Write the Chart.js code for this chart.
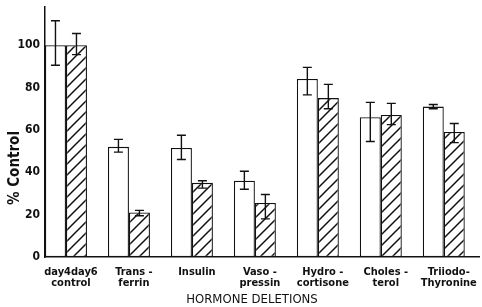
<!DOCTYPE html>
<html>
<head>
<meta charset="utf-8">
<script src="https://cdn.jsdelivr.net/npm/chart.js@4"></script>
<style>
  html, body { margin: 0; padding: 0; background: #fff; }
  canvas { display: block; }
</style>
</head>
<body>
<canvas id="chart" width="482" height="307"></canvas>
<script>
// categories (two-line labels as in the figure)
const categoryLabels = [
  ["day4day6", "control"],
  ["Trans -", "ferrin"],
  ["Insulin"],
  ["Vaso -", "pressin"],
  ["Hydro -", "cortisone"],
  ["Choles -", "terol"],
  ["Triiodo-", "Thyronine"]
];

// open bars (day 4)
const openValues   = [100, 52, 51.5, 36, 84, 66, 71];
const openErrUp    = [11.5, 3.5, 6, 4.5, 5.5, 7, 1];
const openErrDown  = [9.5, 2.5, 5.5, 4, 7.5, 11.5, 1];

// hatched bars (day 6)
const hatchValues  = [100, 21, 35, 25.5, 75, 67, 59];
const hatchErrUp   = [5.5, 1, 1, 4, 6.5, 5.5, 4];
const hatchErrDown = [4.5, 1.5, 2.5, 7.5, 5, 4.5, 5];

const yTicks = [0, 20, 40, 60, 80, 100];

// diagonal hatch pattern
function makeHatch() {
  const s = 11;
  const c = document.createElement("canvas");
  c.width = s; c.height = s;
  const g = c.getContext("2d");
  g.fillStyle = "#fff";
  g.fillRect(0, 0, s, s);
  g.strokeStyle = "#111";
  g.lineWidth = 1.5;
  g.beginPath();
  g.moveTo(-2, s + 2); g.lineTo(s + 2, -2);
  g.moveTo(-2, 2); g.lineTo(2, -2);
  g.moveTo(s - 2, s + 2); g.lineTo(s + 2, s - 2);
  g.stroke();
  return g.createPattern(c, "repeat");
}

const errorBars = {
  id: "errorBars",
  afterDatasetsDraw(chart) {
    const ctx = chart.ctx;
    const y = chart.scales.y;
    const sets = [[openValues, openErrUp, openErrDown], [hatchValues, hatchErrUp, hatchErrDown]];
    ctx.save();
    ctx.strokeStyle = "#111";
    ctx.lineWidth = 1.4;
    sets.forEach((s, di) => {
      const meta = chart.getDatasetMeta(di);
      meta.data.forEach((bar, i) => {
        const top = y.getPixelForValue(s[0][i] + s[1][i]);
        const bot = y.getPixelForValue(s[0][i] - s[2][i]);
        const x = bar.x;
        ctx.beginPath();
        ctx.moveTo(x, top); ctx.lineTo(x, bot);
        ctx.moveTo(x - 4.5, top); ctx.lineTo(x + 4.5, top);
        ctx.moveTo(x - 4.5, bot); ctx.lineTo(x + 4.5, bot);
        ctx.stroke();
      });
    });
    ctx.restore();
  }
};

const extraText = {
  id: "extraText",
  beforeDraw(chart) {
    const ctx = chart.ctx;
    ctx.save();
    ctx.fillStyle = "#fff";
    ctx.fillRect(0, 0, chart.width, chart.height);
    ctx.restore();
  },
  afterDraw(chart) {
    const ctx = chart.ctx;
    ctx.save();
    ctx.fillStyle = "#111";
    ctx.textAlign = "center";
    ctx.textBaseline = "middle";
    ctx.font = "13px 'DejaVu Sans Condensed'";
    ctx.fillText("HORMONE DELETIONS", 252, 300);
    ctx.translate(15, 168);
    ctx.rotate(-Math.PI / 2);
    ctx.font = "bold 15px 'DejaVu Sans Condensed'";
    ctx.fillText("% Control", 0, 0);
    ctx.restore();
  }
};

new Chart(document.getElementById("chart"), {
  type: "bar",
  data: {
    datasets: [
      {
        data: openValues.map((v, i) => ({ x: i, y: v })),
        backgroundColor: "#fff",
        borderColor: "#111",
        borderWidth: 1.3,
        borderSkipped: false
      },
      {
        data: hatchValues.map((v, i) => ({ x: i, y: v })),
        backgroundColor: makeHatch(),
        borderColor: "#111",
        borderWidth: 1.3,
        borderSkipped: false
      }
    ]
  },
  options: {
    responsive: false,
    devicePixelRatio: 1,
    animation: false,
    categoryPercentage: 0.667,
    barPercentage: 1,
    layout: { padding: { left: 0, right: 2, top: 7, bottom: 0 } },
    plugins: { legend: { display: false }, tooltip: { enabled: false } },
    scales: {
      x: {
        type: "linear",
        offset: false,
        min: -0.333,
        max: 6.57,
        grid: { display: false, drawTicks: false, offset: false },
        border: { color: "#111", width: 1.5 },
        afterBuildTicks: (scale) => {
          scale.ticks = categoryLabels.map((c, i) => ({ value: i }));
        },
        afterFit: (scale) => { scale.height = 50; },
        ticks: {
          autoSkip: false,
          maxRotation: 0,
          padding: 10,
          labelOffset: 5,
          color: "#111",
          font: { family: "'DejaVu Sans Condensed'", size: 11, weight: "bold", lineHeight: 1.0 },
          callback: (v) => categoryLabels[v]
        }
      },
      y: {
        min: 0,
        max: 118,
        grid: { display: false, drawTicks: false },
        border: { color: "#111", width: 1.5 },
        afterBuildTicks: (scale) => {
          scale.ticks = yTicks.map(v => ({ value: v }));
        },
        afterFit: (scale) => {
          scale.width = 45;
          scale.paddingTop = 0;
          scale.paddingBottom = 0;
        },
        ticks: {
          padding: 5,
          color: "#111",
          font: { family: "'DejaVu Sans Condensed'", size: 12, weight: "bold" }
        }
      }
    }
  },
  plugins: [errorBars, extraText]
});
</script>
</body>
</html>
